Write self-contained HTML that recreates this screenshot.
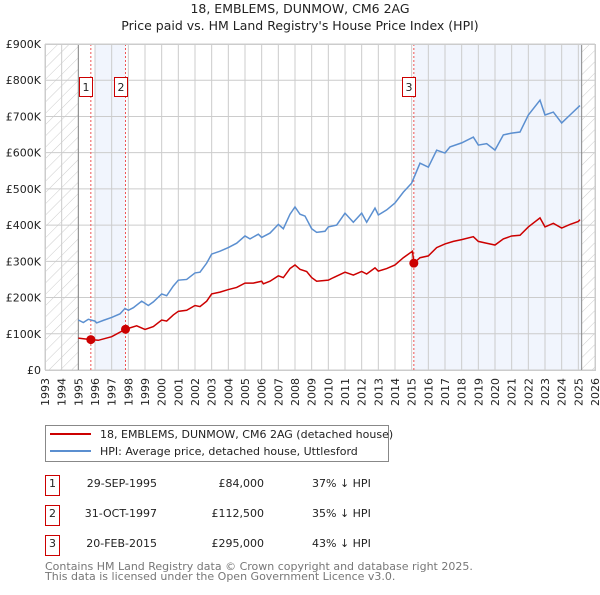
<!DOCTYPE html>
<html><head><meta charset="utf-8"><style>
body{margin:0;background:#fff;font-family:"Liberation Sans","DejaVu Sans",sans-serif;}
svg text{font-family:"DejaVu Sans","Liberation Sans",sans-serif;}
</style></head><body>
<svg id="c" width="600" height="590" xmlns="http://www.w3.org/2000/svg">
<defs><pattern id="hatch" width="8" height="8" patternUnits="userSpaceOnUse" patternTransform="rotate(45)"><line x1="0" y1="0" x2="0" y2="8" stroke="#ccc" stroke-width="1"/></pattern></defs>
<text x="300" y="13" text-anchor="middle" font-size="12.5" fill="#222">18, EMBLEMS, DUNMOW, CM6 2AG</text>
<text x="300" y="30" text-anchor="middle" font-size="12.5" fill="#222">Price paid vs. HM Land Registry's House Price Index (HPI)</text>
<g id="plot"></g>
<g>
<rect x="45.5" y="425.5" width="343" height="36" fill="#fff" stroke="#888"/>
<line x1="50" y1="434" x2="91" y2="434" stroke="#cc0000" stroke-width="2"/>
<text x="100" y="438" font-size="11" fill="#222">18, EMBLEMS, DUNMOW, CM6 2AG (detached house)</text>
<line x1="50" y1="451" x2="91" y2="451" stroke="#5b8fd0" stroke-width="2"/>
<text x="100" y="455" font-size="11" fill="#222">HPI: Average price, detached house, Uttlesford</text>
</g>
<g id="table" font-size="11" fill="#222"></g>
<text x="45" y="570" font-size="11" fill="#777">Contains HM Land Registry data © Crown copyright and database right 2025.</text>
<text x="45" y="580" font-size="11" fill="#777">This data is licensed under the Open Government Licence v3.0.</text>
</svg>
<script>
const hpiYears=[1995.0,1995.3,1995.6,1996.0,1996.1,1996.5,1997.0,1997.5,1997.8,1998.0,1998.3,1998.8,1999.2,1999.5,2000.0,2000.3,2000.7,2001.0,2001.5,2002.0,2002.3,2002.7,2003.0,2003.5,2004.0,2004.5,2005.0,2005.3,2005.8,2006.0,2006.5,2007.0,2007.3,2007.7,2008.0,2008.3,2008.6,2009.0,2009.3,2009.8,2010.0,2010.5,2011.0,2011.5,2012.0,2012.3,2012.8,2013.0,2013.5,2014.0,2014.5,2015.0,2015.5,2016.0,2016.5,2017.0,2017.3,2018.0,2018.7,2019.0,2019.5,2020.0,2020.5,2021.0,2021.5,2022.0,2022.7,2023.0,2023.5,2024.0,2024.5,2025.0,2025.1];
const hpiValues=[138,131,140,135,130,137,145,155,170,165,172,190,178,188,210,205,232,248,250,268,270,295,320,328,338,350,370,362,375,366,378,402,390,430,450,430,425,390,380,383,395,400,433,408,433,408,447,428,442,461,491,516,571,560,607,599,616,627,643,621,625,607,649,654,657,704,745,704,712,682,704,726,730];
const ppYears=[1995.0,1995.75,1996.2,1997.0,1997.83,1998.5,1999.0,1999.5,2000.0,2000.3,2000.7,2001.0,2001.5,2002.0,2002.3,2002.7,2003.0,2003.5,2004.0,2004.5,2005.0,2005.5,2006.0,2006.1,2006.5,2007.0,2007.3,2007.7,2008.0,2008.3,2008.7,2009.0,2009.3,2010.0,2010.3,2011.0,2011.5,2012.0,2012.3,2012.8,2013.0,2013.5,2014.0,2014.5,2015.05,2015.13,2015.5,2016.0,2016.5,2017.0,2017.5,2018.0,2018.7,2019.0,2019.5,2020.0,2020.5,2021.0,2021.5,2022.0,2022.7,2023.0,2023.5,2024.0,2024.5,2025.0,2025.1];
const ppValues=[88,84,82,92,112.5,122,112,120,138,135,152,162,165,178,175,190,210,215,222,228,240,240,245,238,245,260,255,280,290,278,272,255,245,248,255,270,262,272,265,282,273,280,290,310,328,295,310,315,338,348,355,360,368,355,350,345,362,370,372,395,420,395,405,392,402,410,415];
const saleLabels=["1","2","3"];
const saleYears=[1995.75,1997.83,2015.13];
const saleValues=[84,112.5,295];
const saleDates=["29-SEP-1995","31-OCT-1997","20-FEB-2015"];
const salePrices=["£84,000","£112,500","£295,000"];
const saleDiffs=["37% ↓ HPI","35% ↓ HPI","43% ↓ HPI"];
const yTicks=[0,100,200,300,400,500,600,700,800,900];
const yTickLabels=["£0","£100K","£200K","£300K","£400K","£500K","£600K","£700K","£800K","£900K"];
const xTicks=[1993,1994,1995,1996,1997,1998,1999,2000,2001,2002,2003,2004,2005,2006,2007,2008,2009,2010,2011,2012,2013,2014,2015,2016,2017,2018,2019,2020,2021,2022,2023,2024,2025,2026];

const X0=45,X1=595,Y0=370,Y1=44;
const xs=y=>X0+(y-1993)/(2026-1993)*(X1-X0);
const ys=v=>Y0-v/900*(Y0-Y1);
const NS="http://www.w3.org/2000/svg";
const plot=document.getElementById('plot');
function mk(tag,attrs,parent){const e=document.createElementNS(NS,tag);for(const k in attrs)e.setAttribute(k,attrs[k]);(parent||plot).appendChild(e);return e;}
let e;
e=mk('rect',{x:X0,y:Y1,width:X1-X0,height:Y0-Y1,fill:'#fff'});


e=mk('rect',{x:xs(1996),y:Y1,width:xs(1997.83)-xs(1996),height:Y0-Y1,fill:'#eef3fc',opacity:0.8});


e=mk('rect',{x:xs(2015.13),y:Y1,width:xs(2025.2)-xs(2015.13),height:Y0-Y1,fill:'#eef3fc',opacity:0.8});


e=mk('rect',{x:X0,y:Y1,width:xs(1995)-X0,height:Y0-Y1,fill:'url(#hatch)'});


e=mk('rect',{x:xs(2025.2),y:Y1,width:X1-xs(2025.2),height:Y0-Y1,fill:'url(#hatch)'});


xTicks.forEach(t=>{
 e=mk('line',{x1:xs(t),x2:xs(t),y1:Y1,y2:Y0,stroke:'#ccc','stroke-width':1});
 
 
 e=mk('text',{x:0,y:0,transform:`translate(${xs(t)+4},${Y0+36}) rotate(-90)`,'font-size':11,fill:'#222'});
 e.textContent=t;
 
 
});
yTicks.forEach((t,i)=>{
 e=mk('line',{x1:X0,x2:X1,y1:ys(t),y2:ys(t),stroke:'#ccc','stroke-width':1});
 
 
 e=mk('text',{x:X0-4,y:ys(t)+4,'text-anchor':'end','font-size':11,fill:'#222'});
 e.textContent=yTickLabels[i];
 
 
});
e=mk('line',{x1:xs(1995),x2:xs(1995),y1:Y1,y2:Y0,stroke:'#888','stroke-width':1});


e=mk('line',{x1:xs(2025.2),x2:xs(2025.2),y1:Y1,y2:Y0,stroke:'#888','stroke-width':1});


saleYears.forEach((y,i)=>{
 e=mk('line',{x1:xs(y),x2:xs(y),y1:Y1,y2:Y0,stroke:'#e55','stroke-width':1,'stroke-dasharray':'2,2'});
 
 
});
e=mk('polyline',{points:hpiYears.map((y,i)=>xs(y)+','+ys(hpiValues[i])).join(' '),fill:'none',stroke:'#5b8fd0','stroke-width':1.5});


e=mk('polyline',{points:ppYears.map((y,i)=>xs(y)+','+ys(ppValues[i])).join(' '),fill:'none',stroke:'#cc0000','stroke-width':1.5});


saleYears.forEach((y,i)=>{
 e=mk('circle',{cx:xs(y),cy:ys(saleValues[i]),r:4.5,fill:'#cc0000'});
 
 
 const lx=i==0?79:i==1?114:402;
 e=mk('rect',{x:lx+0.5,y:77.5,width:13,height:19,fill:'#fff',stroke:'#cc0000'});
 
 
 e=mk('text',{x:lx+7,y:91,'text-anchor':'middle','font-size':11,fill:'#222'});
 e.textContent=saleLabels[i];
 
 
});
e=mk('rect',{x:X0+0.5,y:Y1+0.5,width:X1-X0,height:Y0-Y1,fill:'none',stroke:'#ccc'});


const tb=document.getElementById('table');
saleLabels.forEach((l,i)=>{
 const yy=487+i*30;
 e=mk('rect',{x:45.5,y:yy-11.5,width:14,height:20,fill:'#fff',stroke:'#cc0000'},tb);
 
 
 e=mk('text',{x:52.5,y:yy,'text-anchor':'middle'},tb);e.textContent=l;
 
 
 e=mk('text',{x:157,y:yy,'text-anchor':'end'},tb);e.textContent=saleDates[i];
 
 
 e=mk('text',{x:264,y:yy,'text-anchor':'end'},tb);e.textContent=salePrices[i];
 
 
 e=mk('text',{x:312,y:yy},tb);e.textContent=saleDiffs[i];
 
 
});
</script>
</body></html>
